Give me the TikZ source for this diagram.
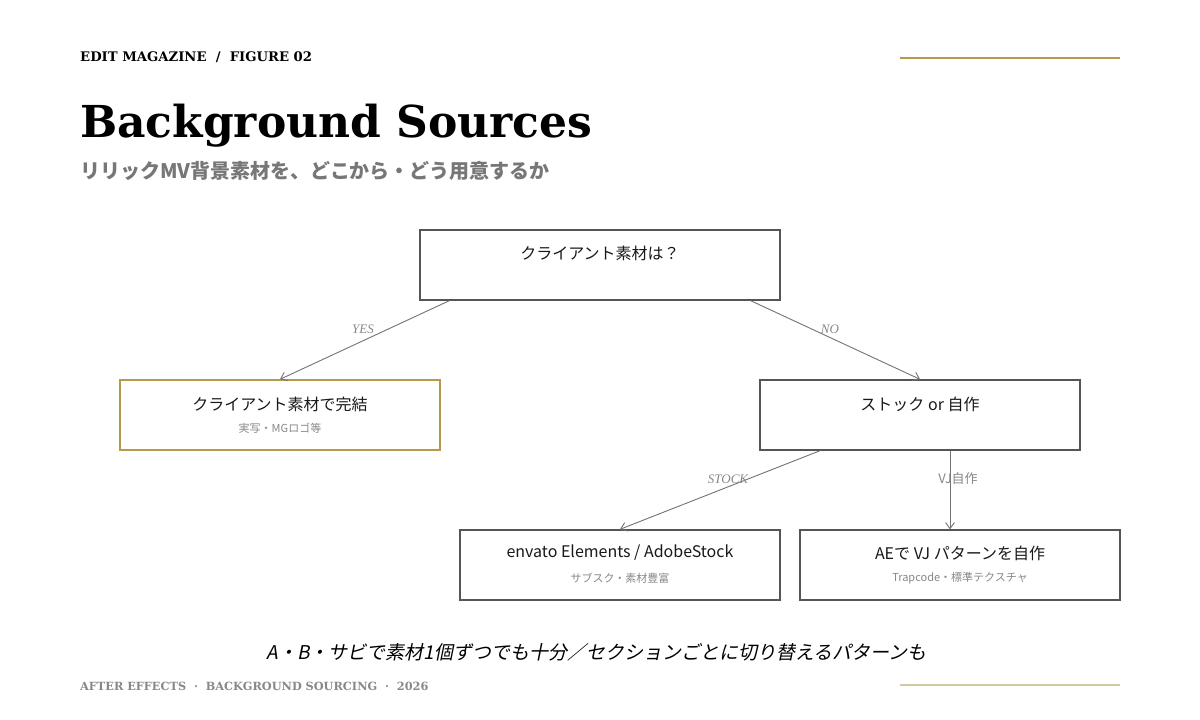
\documentclass[tikz,border=0pt]{standalone}
\usepackage{fontspec}
\setmainfont{Liberation Serif}
\newfontfamily\djser{DejaVu Serif}
\newfontfamily\jp{Noto Sans CJK JP}
\usetikzlibrary{arrows.meta}
\definecolor{gold}{HTML}{B59A4E}
\definecolor{lgold}{HTML}{D6C9A2}
\definecolor{bord}{HTML}{555555}
\definecolor{sub}{HTML}{777777}
\definecolor{lab}{HTML}{888888}
\begin{document}
\begin{tikzpicture}[x=1pt,y=-1pt,
 box/.style={draw=bord,line width=1.4pt,minimum width=360pt,minimum height=70pt,inner sep=0pt},
 sbox/.style={box,minimum width=320pt},
 ttl/.style={font=\jp\fontsize{16}{18}\selectfont,text=black!90},
 st/.style={font=\jp\fontsize{11}{13}\selectfont,text=lab},
 arr/.style={draw=black!55,line width=0.9pt,-{Straight Barb[length=6pt,width=9pt]}},
 el/.style={font=\itshape\fontsize{13}{15}\selectfont,text=lab}]
\useasboundingbox (0,0) rectangle (1200,720);
\fill[white] (0,0) rectangle (1200,720);
\node[anchor=west,font=\djser\bfseries\fontsize{13.2}{15}\selectfont,inner sep=0pt] (hdr) at (80,57) {EDIT MAGAZINE \ / \ FIGURE 02};
\coordinate (g1) at (900,58); \coordinate (g2) at (1120,58);
\draw[gold,line width=1.4pt] (g1) -- (g2);
\node[anchor=west,font=\djser\bfseries\fontsize{44}{50}\selectfont,inner sep=0pt] (title) at (80,126) {Background Sources};
\node[anchor=west,font=\jp\bfseries\fontsize{20}{22}\selectfont,text=sub,inner sep=0pt] (subt) at (80,171) {リリックMV背景素材を、どこから・どう用意するか};

\node[box] (top) at (600,265) {};
\node[ttl] (topt) at (600,253) {クライアント素材は？};
\node[sbox,draw=gold] (left) at (280,415) {};
\node[ttl] (leftt) at (280,404) {クライアント素材で完結};
\node[st] (lefts) at (280,428) {実写・MGロゴ等};
\node[sbox] (right) at (920,415) {};
\node[ttl] (rightt) at (920,404) {ストック or 自作};
\node[sbox] (b1) at (620,565) {};
\node[ttl] (b1t) at (620,553) {envato Elements / AdobeStock};
\node[st] (b1s) at (620,578) {サブスク・素材豊富};
\node[sbox] (b2) at (960,565) {};
\node[ttl] (b2t) at (960,553) {AEで VJ パターンを自作};
\node[st] (b2s) at (960,578) {Trapcode・標準テクスチャ};

\draw[arr] ([xshift=30pt]top.south west) -- (left.north);
\draw[arr] ([xshift=-30pt]top.south east) -- (right.north);
\draw[arr] ([xshift=-100pt]right.south) -- (b1.north);
\draw[arr] ([xshift=30pt]right.south) -- ([xshift=-10pt]b2.north);
\node[el] (yes) at (363,329) {YES};
\node[el] (no) at (830,329) {NO};
\node[el] (stock) at (728,479) {STOCK};
\node[el,font=\jp\itshape\fontsize{13}{15}\selectfont] (vj) at (958,479) {VJ自作};

\node[font=\jp\fontsize{19}{22}\selectfont,xslant=0.2] (note) at (598,652) {A・B・サビで素材1個ずつでも十分／セクションごとに切り替えるパターンも};
\node[anchor=west,font=\djser\bfseries\fontsize{11.3}{13}\selectfont,text=lab,inner sep=0pt] (foot) at (80,686) {AFTER EFFECTS \ · \ BACKGROUND SOURCING \ · \ 2026};
\coordinate (h1) at (900,685); \coordinate (h2) at (1120,685);
\draw[lgold,line width=1.4pt] (h1) -- (h2);
\end{tikzpicture}
\end{document}
